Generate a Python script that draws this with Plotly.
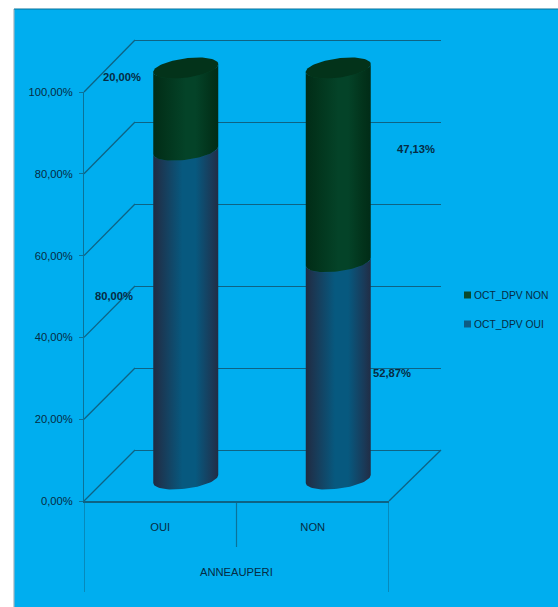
import numpy as np
import plotly.graph_objects as go

categories = ["OUI", "NON"]
series_names = ["OCT_DPV OUI", "OCT_DPV NON"]
oui_values = [80.00, 52.87]
non_values = [20.00, 47.13]
tick_values = [0, 20, 40, 60, 80, 100]
tick_labels = ["0,00%", "20,00%", "40,00%", "60,00%", "80,00%", "100,00%"]
axis_title = "ANNEAUPERI"
oui_labels = ["80,00%", "52,87%"]
non_labels = ["20,00%", "47,13%"]

W, H = 558, 607
FONT = "Liberation Sans, sans-serif"
FS = 11.2
TXT = "#062c44"
LINE = "#0b7299"
GRID = "#0e6384"
BG = "#00aeef"

def fx(p): return p / W
def fy(p): return 1 - p / H

# front, back and bar axes (pixel extents)
F_X = (84, 389); F_Y = (501, 92)
B_X = (135, 441)
BACK_SCALE = 4.1
PAD = 5  # axis range padding (value units) so end gridlines and cylinder caps stay visible
B_Y = (450 + PAD * BACK_SCALE, 40 - PAD * BACK_SCALE)
C_X = (109.5, 414.5)
CYL_W = 65 / 152.5
BAR_W = 58 / 152.5  # the bar core sits inside the rounded cylinder outline
px_per_val = 4.11
C_Y = (479 + PAD * px_per_val, 68 - PAD * px_per_val)

half = CYL_W / 2
tilt = 4 / px_per_val
minor = 9.7 / px_per_val

def ell(cx, v, t):
    return cx + half * np.cos(t), v + tilt * np.cos(t) - minor * np.sin(t)

def front_y(v): return F_Y[0] + (F_Y[1] - F_Y[0]) * v / 100
def back_y(v): return 450 - BACK_SCALE * v

fig = go.Figure()

colors = {"OUI": "#0a5a80", "NON": "#05452a"}
fig.add_trace(go.Bar(x=list(range(2)), y=oui_values, width=BAR_W, marker=dict(color=colors["OUI"], line_width=0),
                     xaxis="x2", yaxis="y2", showlegend=False, name=series_names[0]))
fig.add_trace(go.Bar(x=list(range(2)), y=non_values, width=BAR_W, marker=dict(color=colors["NON"], line_width=0),
                     xaxis="x2", yaxis="y2", showlegend=False, name=series_names[1]))

blue_scale = [[0, "#1e2b42"], [0.1, "#1c3550"], [0.45, "#07597f"], [0.65, "#07597f"], [0.9, "#1a3a58"], [1, "#212d45"]]
green_scale = [[0, "#012c17"], [0.15, "#02331b"], [0.5, "#044328"], [0.65, "#044328"], [0.88, "#02331b"], [1, "#012c17"]]

def segment(cx, v0, v1, scale):
    t = np.linspace(np.pi, 0, 40)  # front half of the ellipse, left to right
    x0, y0 = ell(cx, v0, t)
    x1, y1 = ell(cx, v1, t[::-1])
    fig.add_trace(go.Scatter(x=np.r_[x0, x1], y=np.r_[y0, y1], mode="lines", line_width=0,
                             fill="toself", fillcolor="rgba(0,0,0,0)",
                             fillgradient=dict(type="horizontal", colorscale=scale),
                             xaxis="x2", yaxis="y2", showlegend=False, hoverinfo="skip"))

for i in range(2):
    segment(i, 0, oui_values[i], blue_scale)
for i in range(2):
    segment(i, oui_values[i], oui_values[i] + non_values[i], green_scale)
    t = np.linspace(0, 2 * np.pi, 80)
    xe, ye = ell(i, oui_values[i] + non_values[i], t)
    fig.add_trace(go.Scatter(x=xe, y=ye, mode="lines", line_width=0, fill="toself", fillcolor="#03331a",
                             xaxis="x2", yaxis="y2", showlegend=False, hoverinfo="skip"))

# carrier traces so the front and back axes are drawn
fig.add_trace(go.Scatter(x=categories, y=[None, None], mode="markers", xaxis="x3", yaxis="y3",
                         showlegend=False, hoverinfo="skip"))
fig.add_trace(go.Scatter(x=[0, 1], y=[None, None], mode="markers", xaxis="x", yaxis="y",
                         showlegend=False, hoverinfo="skip"))

shapes = [
    dict(type="rect", xref="paper", yref="paper", x0=fx(14), x1=1, y0=0, y1=fy(9),
         fillcolor=BG, line_width=0, layer="below"),
    dict(type="line", xref="paper", yref="paper", x0=fx(14), x1=fx(14), y0=0, y1=fy(9),
         line=dict(color="#9fb4bf", width=1.2), layer="below"),
    dict(type="line", xref="paper", yref="paper", x0=fx(14), x1=1, y0=fy(9), y1=fy(9),
         line=dict(color="#0b7299", width=1.2), layer="below"),
]
for v in tick_values:
    shapes.append(dict(type="line", xref="paper", yref="paper", x0=fx(F_X[0]), x1=fx(B_X[0]),
                       y0=fy(front_y(v)), y1=fy(back_y(v)), line=dict(color=GRID, width=1.3), layer="below"))
shapes.append(dict(type="line", xref="paper", yref="paper", x0=fx(F_X[1]), x1=fx(B_X[1]),
                   y0=fy(front_y(0)), y1=fy(back_y(0)), line=dict(color=GRID, width=1.3), layer="below"))
for xv, bottom in [(-0.5, 592), (0.5, 547), (1.5, 592)]:
    shapes.append(dict(type="line", xref="x3", yref="paper", x0=xv, x1=xv, y0=fy(501), y1=fy(bottom),
                       line=dict(color=LINE, width=1.2), layer="below"))

ann = []
def label(px, py, text):
    ann.append(dict(x=fx(px), y=fy(py), xref="paper", yref="paper", text="<b>%s</b>" % text, showarrow=False,
                    font=dict(family=FONT, size=FS, color=TXT), xanchor="center", yanchor="middle"))
label(122, 77, non_labels[0])
label(114, 296, oui_labels[0])
label(416, 149, non_labels[1])
label(392, 373, oui_labels[1])
ann.append(dict(x=fx(236), y=fy(572), xref="paper", yref="paper", text=axis_title, showarrow=False,
                xanchor="center", yanchor="middle", font=dict(family=FONT, size=FS, color=TXT)))

# legend drawn by hand: the native one cannot fit this narrow right-hand gutter
for name, col, py in [(series_names[1], "#0a4a2c", 295), (series_names[0], "#0e5c84", 324)]:
    shapes.append(dict(type="rect", xref="paper", yref="paper", x0=fx(464), x1=fx(471), y0=fy(py + 3.5), y1=fy(py - 3.5),
                       fillcolor=col, line_width=0))
    ann.append(dict(x=fx(472), y=fy(py), xref="paper", yref="paper", text=name, showarrow=False, xanchor="left",
                    yanchor="middle", font=dict(family=FONT, size=10.3, color=TXT)))

hidden = dict(showticklabels=False, ticks="", zeroline=False, showline=False, showgrid=False, fixedrange=True,
              automargin=False)

fig.update_layout(
    width=W, height=H, margin=dict(l=0, r=0, t=0, b=0, pad=0), autosize=False,
    paper_bgcolor="white", plot_bgcolor="rgba(0,0,0,0)",
    barmode="stack", bargap=0, showlegend=False,
    font=dict(family=FONT, color=TXT, size=FS),
    xaxis=dict(domain=[fx(B_X[0]), fx(B_X[1])], range=[0, 1], anchor="y", **hidden),
    yaxis=dict(domain=[fy(B_Y[0]), fy(B_Y[1])], range=[-PAD, 100 + PAD], anchor="x", tickvals=tick_values,
               showgrid=True, gridcolor=GRID, gridwidth=1.3, showticklabels=False, ticks="", zeroline=False,
               showline=False, fixedrange=True, automargin=False),
    xaxis2=dict(domain=[fx(C_X[0]), fx(C_X[1])], range=[-0.5, 1.5], anchor="y2", **hidden),
    yaxis2=dict(domain=[fy(C_Y[0]), fy(C_Y[1])], range=[-PAD, 100 + PAD], anchor="x2", **hidden),
    xaxis3=dict(domain=[fx(F_X[0]), fx(F_X[1])], type="category", categoryorder="array", categoryarray=categories,
                range=[-0.5, 1.5], anchor="y3", showline=True, linecolor=GRID, linewidth=2, ticks="",
                ticklabelstandoff=15, showgrid=False, zeroline=False, automargin=False,
                tickfont=dict(family=FONT, size=FS, color=TXT), fixedrange=True),
    yaxis3=dict(domain=[fy(F_Y[0]), fy(F_Y[1])], range=[0, 100], anchor="x3", tickvals=tick_values,
                ticktext=tick_labels, showline=True, linecolor=LINE, linewidth=1.2, ticks="outside", ticklen=4,
                tickcolor=LINE, showgrid=False, zeroline=False, automargin=False, ticklabelstandoff=4,
                tickfont=dict(family=FONT, size=FS, color=TXT), fixedrange=True),
    shapes=shapes, annotations=ann,
)
fig.write_html("out.html", config=dict(displayModeBar=False),
               post_script="document.body.style.margin='0';document.documentElement.style.overflow='hidden';")
